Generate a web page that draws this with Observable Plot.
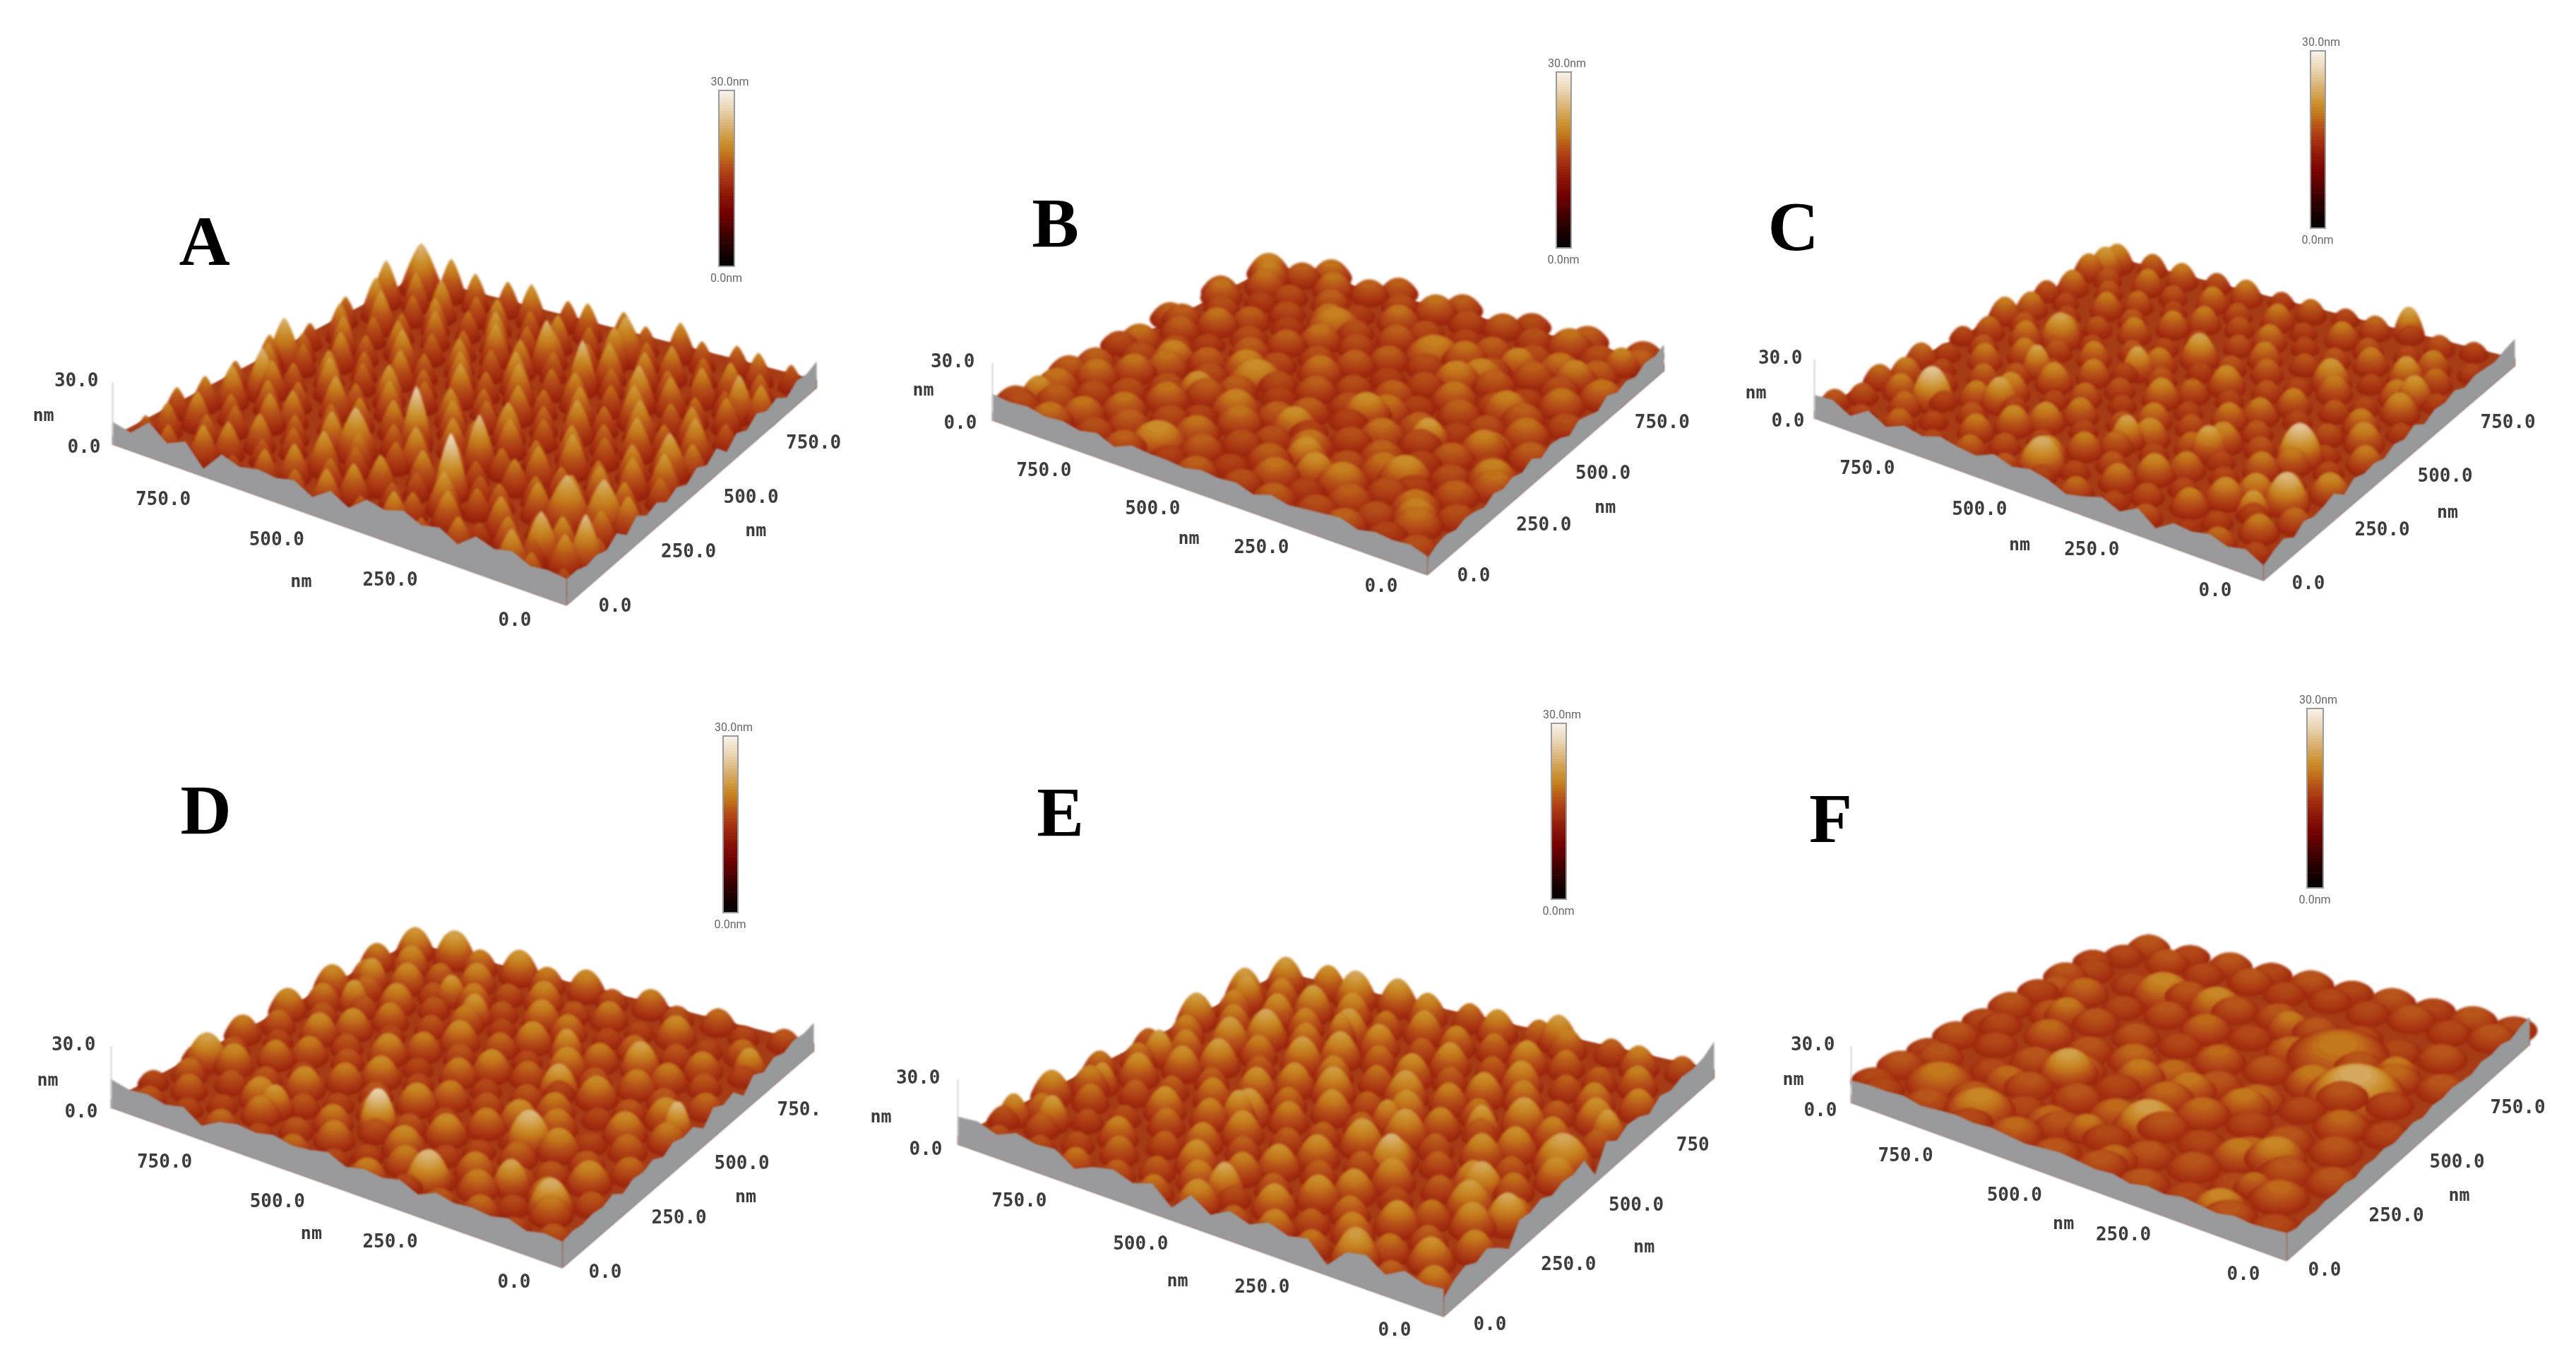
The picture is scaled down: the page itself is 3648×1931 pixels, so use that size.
<!DOCTYPE html>
<html><head><meta charset="utf-8">
<script src="https://cdn.jsdelivr.net/npm/d3@7"></script>
<script src="https://cdn.jsdelivr.net/npm/@observablehq/plot@0.6"></script>
<style>
html,body{margin:0;padding:0;background:#fff}
g[aria-label="dot"]{filter:blur(1.6px)}
g[aria-label="line"]{filter:blur(.8px)}
g[aria-label="text"]{filter:blur(.6px)}
</style></head><body><div id="chart"></div>
<script>
// ---------- values (nm) ----------
const letters=["A","B","C","D","E","F"];
const axisTicks=[0,250,500,750];
const colorStops=[0,4,9,12,15,17.5,19,21,24,27,30];
const colorRange=["#000000","#2a0000","#720000","#8a1506","#a83412","#b8561a","#c2741a","#cb8f2c","#d9b272","#ebd6b6","#f9f2ea"];
// grains as u,v,h triples
const grainsA=[22,28,18,88,18,20,141,35,23,197,22,18,262,40,21,331,18,19,402,36,22,466,20,19,548,31,22,610,18,20,689,38,21,748,20,18,822,33,22,889,17,20,951,36,19,
55,92,22,118,78,19,186,99,21,241,84,18,322,102,22,388,82,20,447,104,19,520,83,22,583,101,20,650,80,22,733,98,19,795,77,22,861,104,20,935,85,21,
18,156,19,92,148,22,158,170,19,229,146,22,298,172,20,359,149,23,431,166,19,498,145,22,571,172,20,627,148,23,707,165,20,770,146,22,842,172,20,912,150,22,970,168,20,
49,225,21,125,212,19,199,236,22,272,213,20,327,232,19,446,214,22,522,238,20,588,209,21,662,230,23,735,214,20,806,236,22,878,212,20,950,232,21,
24,289,22,82,276,20,160,299,22,231,281,20,292,303,21,365,278,19,428,296,21,499,274,23,566,299,20,640,278,22,708,298,20,779,273,22,851,296,21,920,278,23,
66,346,21,133,362,22,208,341,20,272,360,22,344,340,20,470,362,22,532,338,19,605,359,22,671,342,21,741,364,23,812,341,20,885,361,22,958,344,20,
22,412,20,93,424,22,160,404,20,233,426,23,306,407,20,378,425,22,448,406,20,512,428,22,585,408,20,657,425,22,722,405,20,798,428,23,868,407,20,938,424,22,
52,484,19,121,470,22,198,491,20,263,471,22,340,489,20,409,468,23,474,491,20,544,469,22,620,492,20,688,470,23,762,488,20,828,469,22,903,491,20,968,472,21,
26,548,21,88,533,19,161,554,23,228,536,20,301,553,23,368,534,20,441,555,22,508,532,20,578,556,23,652,536,20,718,553,22,790,534,20,858,553,22,934,535,20,
58,612,23,124,599,20,193,618,23,267,600,20,335,617,22,408,596,20,482,620,23,546,598,20,618,616,22,691,596,20,758,619,23,832,600,20,898,618,22,962,597,19,
25,678,19,96,662,22,158,680,20,236,665,23,303,682,20,377,664,22,443,680,20,517,662,23,591,683,20,653,664,22,731,681,20,799,663,22,871,681,20,938,664,22,
62,741,21,128,726,20,199,746,22,264,727,24,342,745,20,403,728,22,482,744,20,549,726,22,622,746,23,688,728,20,767,744,22,835,726,20,899,746,23,972,729,20,
18,807,22,97,792,19,164,810,22,237,794,20,304,811,22,377,792,23,444,811,20,516,793,22,592,812,20,653,791,23,733,810,20,802,794,22,868,810,20,945,792,23,
61,872,20,124,858,22,202,875,20,269,859,22,342,876,20,409,857,23,482,874,20,548,859,22,626,873,20,696,858,22,759,875,20,832,857,23,906,873,22,968,858,24,
31,948,19,102,932,21,168,952,20,243,934,20,309,953,22,383,935,20,449,952,21,526,934,22,588,953,20,666,935,23,736,951,21,804,934,22,877,952,23,940,936,25];
const grainsB=[38,25,19,118,42,18,205,22,20,281,44,19,368,24,20,452,41,19,546,23,20,622,43,18,714,26,20,792,42,19,884,25,21,962,43,19,
84,108,21,171,94,19,246,117,20,338,96,18,417,113,21,508,92,18,588,115,20,679,96,19,757,114,20,851,94,21,926,116,20,
32,182,19,122,170,21,202,194,19,294,172,22,376,192,18,463,168,20,541,191,19,635,172,21,711,193,19,802,168,21,887,189,19,962,172,21,
78,258,20,168,242,18,252,266,21,326,245,19,424,262,21,503,245,19,594,267,21,672,243,18,763,264,21,843,246,19,929,264,21,
29,334,21,124,318,19,207,342,18,287,319,20,373,339,19,462,320,18,548,338,20,633,316,22,718,339,20,797,318,19,888,336,21,968,319,20,
83,408,18,163,392,20,253,413,19,332,393,21,423,411,18,507,392,20,592,414,18,678,391,20,757,412,19,848,393,21,923,411,19,
27,483,20,118,468,21,208,487,18,287,467,20,378,489,21,458,469,19,548,486,20,627,467,19,718,489,22,798,467,20,888,486,19,963,469,21,
82,559,21,168,541,19,247,562,20,338,543,18,407,561,20,493,543,19,587,564,21,678,542,19,757,563,20,847,541,18,928,562,20,
28,634,19,124,618,20,203,638,19,292,617,21,378,637,19,457,619,18,548,636,20,628,617,19,718,638,20,797,618,19,888,637,21,962,619,20,
83,708,21,162,692,18,253,713,20,333,691,22,423,711,19,502,692,20,593,712,19,672,693,21,763,711,18,843,692,20,928,713,19,
27,783,21,123,768,19,202,788,20,293,767,19,372,787,21,463,769,18,542,786,20,633,767,19,712,788,21,803,767,19,882,787,18,967,768,21,
83,858,20,168,842,21,247,862,19,338,842,20,417,861,18,508,843,19,587,862,21,678,843,18,757,861,20,848,842,19,923,862,21,
28,943,20,122,927,19,208,946,21,287,928,19,378,946,20,457,929,19,548,945,21,627,928,19,718,946,20,797,928,21,888,945,20,962,929,22,
45,985,19,185,982,20,330,986,19,505,983,20,670,985,20,840,982,21,985,60,19,985,250,20,985,430,19,985,610,20,985,790,20];
const grainsC=[33,28,18,112,19,20,187,33,17,273,18,19,352,31,18,428,17,20,513,32,18,587,18,19,673,30,20,748,18,18,833,33,20,907,17,18,974,29,19,
68,102,21,154,88,18,228,109,21,313,91,19,388,106,21,474,89,18,548,108,22,633,90,19,708,106,21,793,89,18,868,105,20,953,91,19,
28,173,20,113,158,18,188,178,22,273,161,18,348,176,22,433,159,19,508,177,21,593,158,18,668,176,22,753,161,19,828,177,18,913,159,21,972,176,20,
72,243,19,148,228,22,233,247,18,308,230,21,393,246,18,468,229,20,553,245,18,628,228,22,713,248,18,788,230,21,873,247,18,948,229,21,
28,313,22,113,296,19,188,317,21,273,299,18,348,314,20,433,297,22,508,316,19,593,296,21,668,318,18,753,296,22,828,314,20,913,298,18,972,315,20,
73,383,18,148,367,21,233,386,19,308,368,22,393,385,19,468,366,21,553,384,18,628,367,20,713,386,22,788,367,19,873,385,21,948,366,18,
28,453,21,113,436,18,188,457,20,273,438,19,348,454,21,433,437,18,508,456,22,593,436,19,668,457,21,753,437,18,828,455,21,913,437,19,972,454,18,
73,523,22,148,506,19,233,527,18,308,506,21,393,526,18,468,507,20,553,524,19,628,507,18,713,526,21,788,508,19,873,524,21,948,507,20,
28,593,18,113,576,21,188,597,19,273,576,21,348,594,19,433,577,22,508,596,18,593,577,21,668,594,19,753,578,18,828,597,21,913,576,19,972,594,21,
73,663,22,148,646,18,233,667,21,308,647,18,393,664,20,468,647,19,553,665,21,628,648,18,713,666,21,788,647,19,873,664,18,948,648,21,
28,733,18,113,716,21,188,737,18,273,716,22,348,734,19,433,717,21,508,734,19,593,717,18,668,736,21,753,717,19,828,735,21,913,716,18,972,734,19,
73,803,20,148,787,18,233,806,21,308,786,19,393,804,18,468,788,21,553,804,19,628,788,21,713,804,18,788,786,20,873,806,19,948,787,21,
28,873,18,113,857,21,188,877,18,273,857,19,348,874,21,433,858,18,508,876,21,593,857,19,668,875,21,753,858,19,828,876,21,913,857,19,972,875,21,
73,953,18,148,936,19,233,955,18,308,937,20,393,954,18,468,937,20,553,955,18,628,937,21,713,954,19,788,937,21,873,954,20,948,937,22];
const grainsD=[38,33,19,118,18,18,203,36,20,283,19,19,368,34,18,443,17,21,528,35,18,608,18,20,693,33,18,768,17,20,853,34,18,928,18,19,
87,108,21,163,91,18,252,110,21,328,93,19,413,107,21,488,91,18,573,109,21,648,92,19,737,108,21,813,92,18,897,106,20,968,93,18,
38,183,19,127,166,21,203,186,19,292,168,21,368,184,18,452,167,22,528,185,19,612,166,21,693,187,19,777,166,22,853,184,19,937,167,20,
87,258,22,163,241,19,252,261,20,328,242,18,413,259,22,488,243,19,573,258,21,648,242,18,737,260,22,813,241,19,897,259,22,968,243,19,
38,333,20,127,316,19,203,336,22,292,317,18,368,334,21,452,316,18,528,335,22,612,318,19,693,334,21,777,316,18,853,335,21,937,316,19,
87,408,20,163,391,18,252,411,21,328,393,22,413,408,19,488,392,21,573,409,18,648,392,22,737,410,19,813,391,21,897,409,18,968,392,21,
38,483,21,127,466,22,203,486,18,292,467,21,368,484,19,452,466,18,528,485,21,612,467,18,693,486,22,777,466,19,853,484,22,937,467,20,
87,558,22,163,541,19,252,561,22,328,542,18,413,559,20,488,543,22,573,558,19,648,542,21,737,560,18,813,541,22,897,559,19,968,543,22,
38,633,20,127,616,19,203,636,21,292,617,19,368,634,22,452,616,18,528,635,20,612,617,22,693,635,19,777,616,21,853,634,19,937,617,21,
87,708,19,163,691,21,252,711,18,328,693,21,413,708,19,488,692,22,573,709,18,648,692,21,737,710,19,813,691,22,897,709,20,968,692,22,
38,783,18,127,766,21,203,786,19,292,767,20,368,784,18,452,766,21,528,785,22,612,767,19,693,786,21,777,766,19,853,784,22,937,766,21,
87,858,20,163,841,18,252,861,22,328,842,18,413,858,21,488,842,19,573,859,22,648,842,19,737,860,22,813,841,20,897,859,22,968,842,21,
38,943,19,127,926,18,203,946,20,292,927,19,368,944,21,452,927,19,528,945,22,612,927,21,693,945,23,777,927,21,853,945,24,937,927,23];
const grainsE=[38,33,22,118,18,20,203,36,24,283,19,21,368,34,22,443,17,20,528,35,23,608,18,21,693,33,20,768,17,21,853,34,19,928,18,19,
87,108,23,163,91,21,252,110,22,328,93,20,413,107,23,488,91,19,573,109,22,648,92,20,737,108,21,813,92,19,897,106,20,968,93,19,
38,183,22,127,166,20,203,186,23,292,168,21,368,184,23,452,167,20,528,185,22,612,166,23,693,187,20,777,166,22,853,184,19,937,167,21,
87,258,23,163,241,21,252,261,19,328,242,23,413,259,20,488,243,23,573,258,20,648,242,22,737,260,21,813,241,19,897,259,21,968,243,23,
38,333,21,127,316,24,203,336,20,292,317,23,368,334,20,452,316,23,528,335,20,612,317,23,693,334,22,777,316,23,853,335,20,937,316,22,
87,408,21,163,391,23,252,411,20,328,393,22,413,408,24,488,392,20,573,409,22,648,392,24,737,410,22,813,391,20,897,409,23,968,392,21,
38,483,23,127,466,20,203,486,23,292,467,20,368,484,24,452,466,20,528,485,23,612,467,21,693,486,23,777,466,20,853,484,23,937,467,21,
87,558,21,163,541,23,252,561,20,328,542,22,413,559,23,488,543,20,573,558,24,648,542,23,737,560,20,813,541,24,897,559,22,968,543,20,
38,633,20,127,616,22,203,636,24,292,617,21,368,634,22,452,616,24,528,635,21,612,617,22,693,635,24,777,616,22,853,634,24,937,617,22,
87,708,23,163,691,20,252,711,22,328,693,23,413,708,20,488,692,23,573,709,21,648,692,24,737,710,22,813,691,25,897,709,22,968,692,24,
38,783,22,127,766,22,203,786,20,292,767,23,368,784,20,452,766,23,528,785,20,612,767,23,693,786,24,777,766,22,853,784,23,937,766,22,
87,858,22,163,841,20,252,861,21,328,842,23,413,858,21,488,842,22,573,859,23,648,842,21,737,860,23,813,841,24,897,859,22,968,842,24,
38,943,20,127,926,22,203,946,20,292,927,22,368,944,21,452,927,23,528,945,21,612,927,23,693,945,24,777,927,25,853,945,23,937,927,24];
const grainsF=[52,42,18,148,28,19,253,46,18,349,30,19,452,44,19,549,28,19,652,47,20,748,31,18,852,44,19,949,30,18,
102,150,20,198,136,18,302,153,19,399,138,19,503,152,18,601,137,19,698,154,18,803,137,19,899,152,20,
42,262,19,141,245,19,238,266,20,342,248,18,438,263,19,540,246,20,641,264,19,743,248,19,838,263,18,952,246,19,
98,372,19,201,356,19,303,374,18,402,356,20,497,373,20,603,357,18,702,372,20,798,356,19,901,374,18,
41,482,18,138,465,20,243,484,18,338,467,20,442,481,19,537,466,20,642,483,20,738,467,19,843,481,20,948,465,18,
98,592,18,202,576,19,392,594,19,498,576,20,603,594,18,697,577,19,802,592,19,898,576,19,
38,702,19,142,686,20,238,704,19,392,687,20,502,703,18,598,686,20,703,704,19,798,687,18,902,703,20,958,686,19,
103,812,19,198,796,18,302,813,18,398,796,19,503,814,19,597,797,19,722,813,19,848,797,18,952,814,18,
52,932,19,148,916,18,252,934,19,348,917,18,452,933,18,552,917,18,648,934,19,752,917,18,852,933,19,948,917,18,
30,985,18,130,982,19,230,986,18,330,983,19,430,985,18,530,982,19,630,986,18,730,983,19,830,985,18,930,982,19,
985,60,18,985,160,19,985,260,18,985,360,19,985,460,18,985,560,19,985,660,18,985,760,19,985,860,18];
// prominent grains: [u, v, h, radius]
const peaksA=[[380,210,29,34],[547,351,28,32],[401,349,26,32],[524,783,25,34],[403,732,26,32],[142,252,25,46],[74,279,25,42],[30,130,26,32],[113,101,25,36],[64,521,24,36],[40,459,23,32],[616,243,25,42],[900,350,25,36],[950,495,25,38],[950,950,25,48],[404,893,24,40],[63,794,24,32]];
const peaksB=[[669,449,23,60],[669,80,23,58],[494,317,23,46],[357,170,23,42],[406,217,23,42],[242,429,24,40],[202,267,23,50],[50,365,22,48],[100,134,22,44],[409,459,23,48],[735,335,23,42],[960,103,23,38],[434,763,22,62],[683,764,22,62],[294,727,22,50],[254,811,22,44],[119,823,22,44],[60,920,22,36],[859,436,22,48],[940,900,22,44],[173,632,22,48],[127,461,22,46]];
const peaksC=[[849,170,27,44],[745,246,24,38],[537,70,25,46],[153,406,27,44],[80,232,26,42],[465,263,24,34],[613,530,24,34],[545,649,24,40],[314,323,24,36],[821,567,24,44],[773,417,24,32],[264,704,23,40],[137,792,23,36],[80,732,23,36],[244,967,24,32],[114,160,23,32],[950,900,23,40]];
const peaksD=[[540,214,28,38],[267,330,26,44],[342,75,26,44],[40,525,26,28],[243,713,24,40],[332,546,24,40],[100,130,25,42],[950,246,24,44],[40,809,23,34],[741,777,23,34],[917,755,23,36],[651,727,23,36],[884,647,23,34],[731,148,23,36],[206,159,24,36],[407,693,23,34]];
const peaksE=[[60,543,25,58],[327,370,26,44],[40,306,25,44],[138,379,25,44],[40,673,24,34],[327,950,24,42],[516,106,25,38],[210,50,24,42],[900,144,24,36],[660,377,24,36],[257,573,24,36],[944,815,24,40],[921,509,24,38],[960,113,23,34],[922,333,23,34],[827,713,23,32],[702,774,23,32],[423,509,23,34]];
const peaksF=[[180,593,25,95],[466,251,24,66],[717,355,24,58],[299,720,21,100],[760,90,22,68],[886,144,21,68],[176,40,22,52],[188,284,22,56],[250,245,21,52],[770,794,22,68],[640,792,22,60],[456,782,21,46],[351,432,21,52],[478,430,21,52],[592,424,21,50],[154,712,21,46],[283,592,21,56],[871,592,21,48],[788,239,20,48],[626,138,20,50],[549,152,21,42],[442,80,20,42],[165,157,20,36]];
// height of the surface along the two front walls, 0 to 1000 nm every 40 nm
const edgeUA=[13,14,13,17,15,18,11,16,14,18,15,17,10,15,9,14,12,13,11,14,4,14,10,17,9,11];
const edgeVA=[13,13,11,12,10,14,9,14,10,12,8,11,8,12,9,13,7,12,9,13,10,12,8,12,11,13];
const edgeUB=[10,13,12,13,11,14,13,12,11,13,10,13,12,13,11,12,12,13,9,13,11,13,12,14,13,14];
const edgeVB=[9,12,13,11,13,12,10,13,11,13,11,14,10,13,12,9,13,11,9,13,10,12,10,13,12,14];
const edgeUC=[8,13,11,14,12,13,7,14,9,13,10,8,12,14,12,15,11,12,14,11,13,9,14,8,13,12];
const edgeVC=[8,11,13,9,13,11,12,14,9,13,11,12,10,13,11,14,10,13,12,14,11,13,12,11,13,14];
const edgeUD=[13,14,12,15,13,14,13,15,11,15,13,14,12,16,14,13,15,13,14,12,7,13,11,13,12,14];
const edgeVD=[13,14,13,14,13,15,11,14,13,15,12,15,13,14,9,15,12,14,8,14,11,14,12,14,13,14];
const edgeUE=[13,12,15,10,16,14,5,14,12,15,11,14,9,15,6,14,11,14,12,8,14,13,15,11,14,13];
const edgeVE=[9,13,15,12,14,10,5,14,13,15,12,14,13,15,4,15,11,14,13,10,14,12,14,13,14,17];
const edgeUF=[15,14,13,14,12,13,14,12,13,11,13,12,13,14,13,12,13,14,13,14,13,12,14,13,13,12];
const edgeVF=[15,13,14,13,14,13,14,12,14,13,14,12,13,14,12,14,13,14,13,12,14,13,14,12,14,15];

// ---------- layout ----------
const frames=[
 {id:"A",F:[802,857],L:[159,629],R:[1156,549],B:[589,403],zs:2.93,grains:grainsA,peaks:peaksA,eu:edgeUA,ev:edgeVA,cb:13,gain:1.9,tone:-.5,start:4,r:28,shape:.75,tu:[-50,20],tv:[45,0],nu:[-135,51],nv:[135,9],zo:[-17,3],zn:[-98,-42],bar:[1018,128,1040,377],lt:[289,342]},
 {id:"B",F:[2021,814],L:[1405,595],R:[2356,525],B:[1803,386],zs:2.7,grains:grainsB,peaks:peaksB,eu:edgeUB,ev:edgeVB,cb:13.5,gain:1.15,tone:-1.5,start:7,r:44,shape:.45,tu:[-42,15],tv:[42,0],nu:[-107,30],nv:[126,12],zo:[-22,3],zn:[-98,-44],bar:[2204,102,2225,351],lt:[1494,316]},
 {id:"C",F:[3205,822],L:[2569,592],R:[3561,518],B:[2995,375],zs:2.77,grains:grainsC,peaks:peaksC,eu:edgeUC,ev:edgeVC,cb:13.5,gain:1.3,tone:-1,start:7,r:34,shape:.45,tu:[-45,13],tv:[40,3],nu:[-107,35],nv:[127,16],zo:[-14,3],zn:[-83,-37],bar:[3272,72,3293,323],lt:[2539,321]},
 {id:"D",F:[796,1795],L:[157,1568],R:[1152,1488],B:[582,1345],zs:2.9,grains:grainsD,peaks:peaksD,eu:edgeUD,ev:edgeVD,cb:13.5,gain:1.3,tone:-1,start:7,r:37,shape:.45,tu:[-45,19],tv:[37,5],nu:[-116,36],nv:[126,14],zo:[-19,5],zn:[-90,-40],bar:[1024,1042,1045,1292],lt:[291,1147]},
 {id:"E",F:[2044,1864],L:[1356,1620],R:[2427,1526],B:[1815,1388],zs:3.06,grains:grainsE,peaks:peaksE,eu:edgeUE,ev:edgeVE,cb:13.5,gain:1.25,tone:-1.5,start:6,r:36,shape:.5,tu:[-46,18],tv:[42,10],nu:[-119,40],nv:[140,27],zo:[-22,6],zn:[-109,-40],bar:[2197,1024,2218,1273],lt:[1501,1150]},
 {id:"F",F:[3238,1785],L:[2621,1561],R:[3582,1479],B:[3009,1352],zs:2.67,grains:grainsF,peaks:peaksF,eu:edgeUF,ev:edgeVF,cb:14,gain:1.15,tone:-1,start:8,r:54,shape:.45,tu:[-38,18],tv:[30,12],nu:[-85,30],nv:[115,21],zo:[-20,10],zn:[-82,-34],bar:[3267,1003,3290,1257],lt:[2592,1159]}
];
const vTickText={D:{750:"750."},E:{750:"750"}};

const project=(p,u,v,z)=>{
  const a=u/1000,b=v/1000,w=[(1-a)*(1-b),a*(1-b),(1-a)*b,a*b];
  const cs=[p.F,p.L,p.R,p.B];
  return [d3.sum(cs,(c,i)=>c[0]*w[i]), d3.sum(cs,(c,i)=>c[1]*w[i])-z*p.zs];
};
const ratio=0.56, k=0.5523;
const flatDisc={draw(c,size){const r=Math.sqrt(size/Math.PI),h=r*ratio;
  c.moveTo(r,0);c.bezierCurveTo(r,k*h,k*r,h,0,h);c.bezierCurveTo(-k*r,h,-r,k*h,-r,0);
  c.bezierCurveTo(-r,-k*h,-k*r,-h,0,-h);c.bezierCurveTo(k*r,-h,r,-k*h,r,0);c.closePath();}};

const basePts=[],mask=[],wallU=[],wallV=[],slices=[],axes=[],tickEnd=[],tickStart=[],zLab=[],nmLab=[],bar=[],frameBox=[],barLab=[],big=[];
const pt=(id,xy)=>({id,x:xy[0],y:xy[1]});
for(const p of frames){
  const lift=4;
  for(const [u,v,z] of [[0,0,0],[1000,0,0],[1000,0,lift],[1000,1000,lift],[0,1000,lift],[0,1000,0]]) basePts.push(pt(p.id,project(p,u,v,z)));
  // white below the two base edges keeps the surface inside the block
  for(const [u,v,z] of [[1000,0,0],[0,0,0],[0,1000,0],[0,1000,-14],[0,0,-14],[1000,0,-14]]) mask.push(pt(p.id,project(p,u,v,z)));
  wallU.push(pt(p.id,project(p,0,0,0)));
  p.eu.forEach((h,i)=>wallU.push(pt(p.id,project(p,i*40,0,h))));
  wallU.push(pt(p.id,project(p,1000,0,0)));
  wallV.push(pt(p.id,project(p,0,0,0)));
  p.ev.forEach((h,i)=>wallV.push(pt(p.id,project(p,0,i*40,h))));
  wallV.push(pt(p.id,project(p,0,1000,0)));
  const bumps=[];
  for(let i=0;i<p.grains.length;i+=3){const h=p.grains[i+2];
    bumps.push({u:p.grains[i],v:p.grains[i+1],h,r:p.r*(0.7+(h-16)*0.07)});}
  for(const q of p.peaks) bumps.push({u:q[0],v:q[1],h:q[2],r:q[3]});
  bumps.forEach(b=>b.depth=project(p,b.u,b.v,0)[1]);
  bumps.sort((m,n)=>m.depth-n.depth);
  for(const b of bumps){
    const riseNm=(b.h-p.cb)*p.gain;
    const n=Math.ceil(riseNm*p.zs/3)+2;
    const scale=0.85*(1-0.27*(b.u+b.v)/2000);
    for(let j=0;j<n;j++){
      const t=j/(n-1);
      const xy=project(p,b.u,b.v,p.start+riseNm*t);
      const rr=b.r*scale*Math.pow(1-t,p.shape);
      if(rr>0.8) slices.push({x:xy[0],y:xy[1],z:p.cb+(b.h+p.tone-p.cb)*t,r:rr});
    }
  }
  axes.push(pt(p.id,project(p,1000,0,0)),pt(p.id,project(p,1000,0,30)));
  for(const t of axisTicks){
    const a=project(p,t,0,0); tickEnd.push({x:a[0]+p.tu[0],y:a[1]+p.tu[1],s:t.toFixed(1)});
    const b=project(p,0,t,0); tickStart.push({x:b[0]+p.tv[0],y:b[1]+p.tv[1],s:(vTickText[p.id]||{})[t]||t.toFixed(1)});
  }
  const a0=project(p,1000,0,0),a3=project(p,1000,0,30);
  zLab.push({x:a0[0]+p.zo[0],y:a0[1]+p.zo[1],s:"0.0"},{x:a3[0]+p.zo[0]-3,y:a3[1]-3,s:"30.0"});
  nmLab.push({x:a0[0]+p.zn[0],y:a0[1]+p.zn[1],s:"nm"});
  const nu=project(p,375,0,0),nv=project(p,0,375,0);
  nmLab.push({x:nu[0]+p.nu[0],y:nu[1]+p.nu[1],s:"nm"},{x:nv[0]+p.nv[0],y:nv[1]+p.nv[1],s:"nm"});
  const [bx1,by1,bx2,by2]=p.bar, bh=(by2-by1)/30;
  for(let z=0;z<30;z+=0.5) bar.push({x1:bx1,x2:bx2,y1:by2-z*bh,y2:by2-(z+0.5)*bh+(z<29.5?-0.6:0),z:z+0.25});
  frameBox.push({x1:bx1,x2:bx2,y1:by1,y2:by2});
  barLab.push({x:(bx1+bx2)/2+4,y:by1-13,s:"30.0nm"},{x:(bx1+bx2)/2-1,y:by2+16,s:"0.0nm"});
  big.push({x:p.lt[0],y:p.lt[1],s:p.id});
}
const textStyle={x:"x",y:"y",text:"s",fontFamily:"DejaVu Sans Mono",fontWeight:"bold",fontSize:26,fill:"#3c3c3c"};
const chart=Plot.plot({
  width:3648,height:1931,margin:0,
  x:{domain:[0,3648],range:[0,3648],axis:null},
  y:{domain:[0,1931],range:[0,1931],axis:null},
  r:{type:"identity"},
  color:{type:"linear",domain:colorStops,range:colorRange,interpolate:"rgb",clamp:true},
  style:{background:"#fff"},
  marks:[
    Plot.line(basePts,{x:"x",y:"y",z:"id",fill:"#a63c16",stroke:"none"}),
    Plot.dot(slices,{x:"x",y:"y",r:"r",fill:"z",symbol:flatDisc,stroke:"none",sort:null}),
    Plot.line(mask,{x:"x",y:"y",z:"id",fill:"#fff",stroke:"none"}),
    Plot.line(wallU,{x:"x",y:"y",z:"id",fill:"#9a9a9c",stroke:"none"}),
    Plot.line(wallV,{x:"x",y:"y",z:"id",fill:"#98999b",stroke:"none"}),
    Plot.line(axes,{x:"x",y:"y",z:"id",stroke:"#c4c4c4",strokeWidth:1.5}),
    Plot.rect(bar,{x1:"x1",x2:"x2",y1:"y1",y2:"y2",fill:"z",inset:0}),
    Plot.rect(frameBox,{x1:"x1",x2:"x2",y1:"y1",y2:"y2",fill:"none",stroke:"#9a9a9a",strokeWidth:2}),
    Plot.text(tickEnd,{...textStyle,textAnchor:"end"}),
    Plot.text(tickStart,{...textStyle,textAnchor:"start"}),
    Plot.text(zLab,{...textStyle,textAnchor:"end"}),
    Plot.text(nmLab,{...textStyle,textAnchor:"middle",fontSize:25}),
    Plot.text(barLab,{x:"x",y:"y",text:"s",textAnchor:"middle",fontFamily:"Roboto",fontSize:16,fill:"#666"}),
    Plot.text(big,{x:"x",y:"y",text:"s",textAnchor:"middle",fontFamily:"Liberation Serif",fontWeight:"bold",fontSize:100,fill:"#000"})
  ]
});
document.getElementById("chart").append(chart);
</script></body></html>
